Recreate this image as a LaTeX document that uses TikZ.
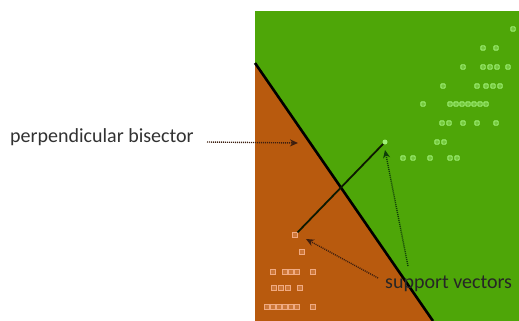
\documentclass[tikz,border=0pt]{standalone}
\usepackage{fontspec}
\setmainfont{Carlito}
\usetikzlibrary{arrows.meta}
\definecolor{bggreen}{RGB}{78,166,8}
\definecolor{bgbrown}{RGB}{184,90,14}
\definecolor{ptgreen}{RGB}{160,240,120}
\definecolor{ptbrown}{RGB}{240,170,130}
\definecolor{arrbrown}{RGB}{60,30,15}
\definecolor{arrgreen}{RGB}{15,60,10}
\definecolor{labgray}{RGB}{50,50,50}
\tikzset{
  gpt/.style={rectangle,rounded corners=1pt,draw=ptgreen,fill=ptgreen!45!bggreen,line width=0.9pt,inner sep=0pt,minimum size=4.4pt},
  bpt/.style={rectangle,draw=ptbrown,fill=ptbrown!35!bgbrown,line width=0.9pt,inner sep=0pt,minimum size=4.4pt},
  lab/.style={font=\fontsize{20}{24}\selectfont,inner sep=0pt},
  dotarrow/.style={dash pattern=on 1pt off 1pt,line width=1.4pt,-{Stealth[length=8pt,width=7pt]}},
}
\begin{document}
\begin{tikzpicture}[x=1pt,y=-1pt]
\useasboundingbox (0,0) rectangle (519,321);
\fill[white] (0,0) rectangle (519,321);
% regions
\fill[bggreen] (255,11) rectangle (519,321);
\fill[bgbrown] (255,63) -- (433,321) -- (255,321) -- cycle;
\draw[line width=2.6pt,black] (255,63) -- (433,321);
% green points
\foreach \x/\y in {513/29,483/48,496/48,
  463/67,483/67,490/67,497/67,508/67,
  443/86,477/86,486/86,493/86,500/86,
  423/104,450/104,456/104,462/104,468/104,474/104,480/104,486/104,
  442/123,449/123,463/123,477/123,496/123,
  437/142,444/142,
  403/158,413/158,430/158,450/158,457/158}
  \node[gpt] at (\x,\y) {};
\node[circle,fill=ptgreen,inner sep=0pt,minimum size=5pt] (gsv) at (385,142) {};
% brown points
\foreach \x/\y in {302/252,
  273/272,285/272,291/272,297/272,313/272,
  274/288,281/288,288/288,300/288,
  267/307,273/307,279/307,285/307,291/307,297/307,313/307}
  \node[bpt] at (\x,\y) {};
\node[bpt] (bsv) at (295,235) {};
% perpendicular line between support vectors
\draw[line width=1.8pt,black!85!bggreen] (bsv) -- (gsv);
% labels
\node[lab,text=labgray,anchor=west] (pb) at (10,137) {perpendicular bisector};
\node[lab,text=black!85,anchor=west] (sv) at (385,284) {support vectors};
\coordinate (pbtip) at (298,143);
\coordinate (svA) at (408,266);
\coordinate (svB) at (378,278);
\coordinate (gtip) at (385,150);
\coordinate (btip) at (306,239);
\draw[dotarrow,arrbrown] (207,142) -- (pbtip);
\draw[dotarrow,arrgreen] (svA) -- (gtip);
\draw[dotarrow,arrbrown] (svB) -- (btip);
\end{tikzpicture}
\end{document}
